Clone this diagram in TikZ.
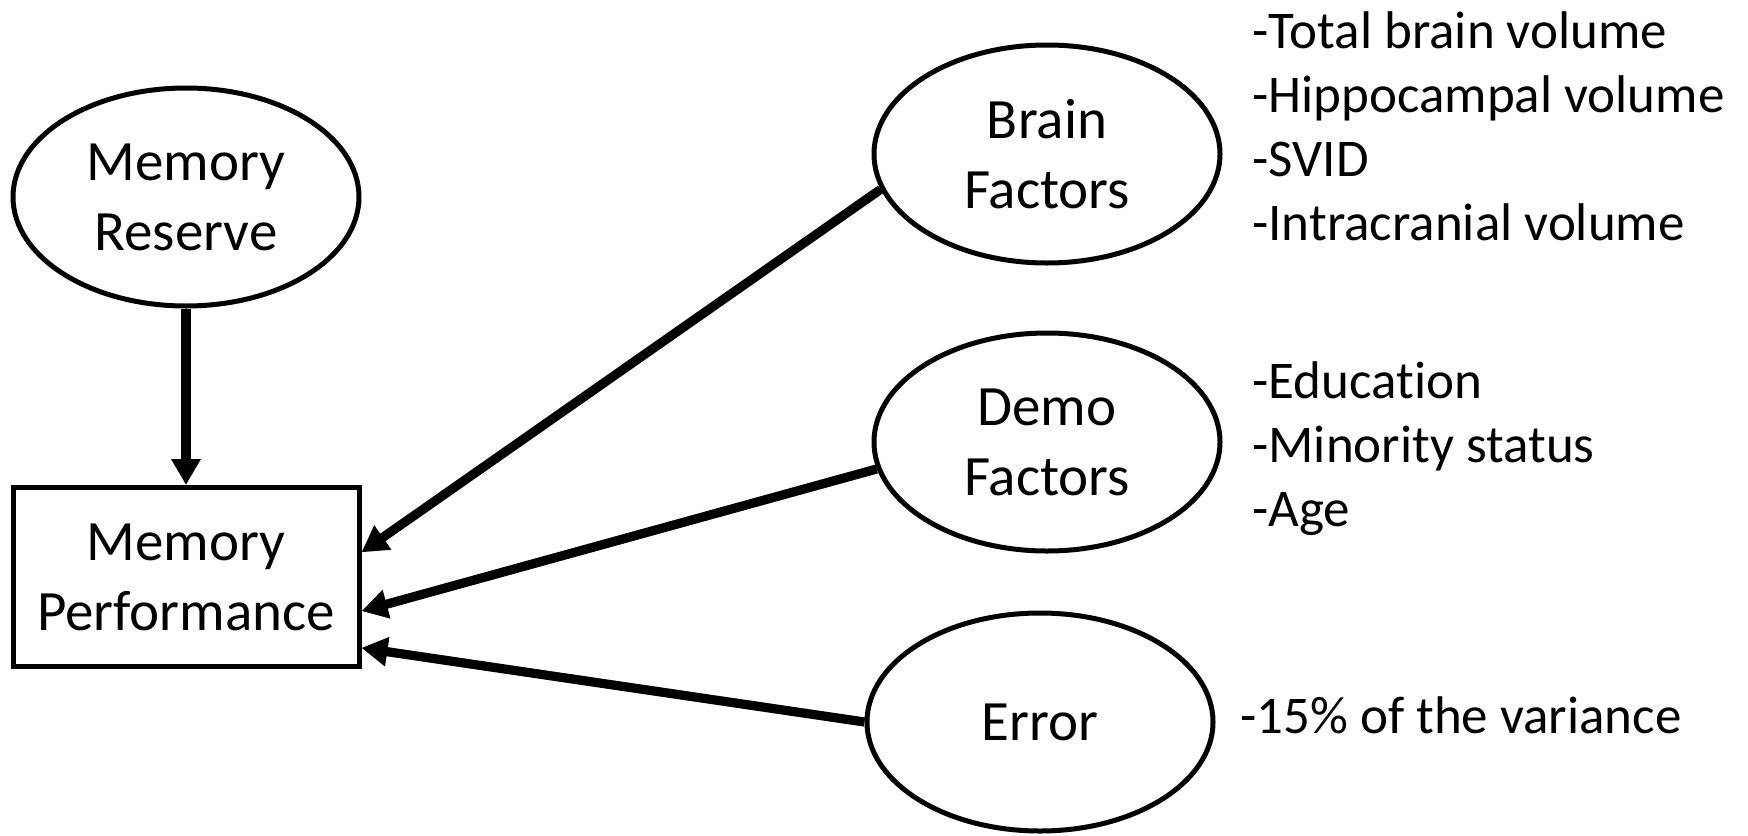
\documentclass[tikz,border=0pt]{standalone}
\usepackage{fontspec}
\setmainfont{Carlito}[Ligatures=NoCommon]
\usetikzlibrary{shapes.geometric,arrows.meta}
\begin{document}
\begin{tikzpicture}[x=0.5pt, y=-0.5pt,
  factor/.style={draw, ellipse, line width=2.5pt, inner sep=0pt, minimum width=173pt, minimum height=109pt, align=center, font=\fontsize{28.5}{35}\selectfont},
  outcome/.style={draw, rectangle, line width=2.5pt, inner sep=0pt, minimum width=173pt, minimum height=89.5pt, align=center, font=\fontsize{28.5}{35}\selectfont},
  items/.style={anchor=west, inner sep=0pt, align=left, font=\fontsize{26.5}{32}\selectfont},
  >={Triangle[length=13pt, width=14pt]},
  link/.style={->, line width=4.6pt}]
\useasboundingbox (0,0) rectangle (1748,835);
\node[factor] (mr) at (186,197) {Memory\\Reserve};
\node[outcome] (mp) at (186,577) {Memory\\Performance};
\node[factor] (bf) at (1047,154) {Brain\\Factors};
\node[factor] (df) at (1047,442) {Demo\\Factors};
\node[factor] (er) at (1040,722) {Error};
\node[items] (bflist) at (1252,126) {-Total brain volume\\-Hippocampal volume\\-SVID\\-Intracranial volume};
\node[items] (dflist) at (1252,449) {-Education\\-Minority status\\-Age};
\node[items] (erlist) at (1240,715) {-15\% of the variance};
\draw[link] (mr) -- (mp);
\draw[link] (bf.192) -- (mp.8);
\draw[link] (df.189) -- (mp.349);
\draw[link] (er.west) -- (mp.338);
\end{tikzpicture}
\end{document}
